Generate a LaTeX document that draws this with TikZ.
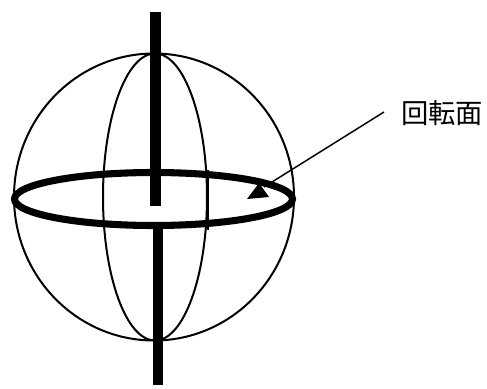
\documentclass[tikz,border=0pt]{standalone}
\usepackage{fontspec}
\newfontfamily\cjkfont{Noto Sans CJK JP}
\usetikzlibrary{positioning}
\tikzset{
  thinline/.style={line width=1.5pt,draw=black},
  axisline/.style={line width=8pt,draw=black},
  planeline/.style={line width=5.3pt,draw=black},
  leader/.style={line width=1.1pt,draw=black},
  labeltext/.style={font=\cjkfont\fontsize{20.5pt}{22pt}\selectfont,inner sep=0pt,anchor=west}
}
\begin{document}
\begin{tikzpicture}[x=0.75pt,y=-0.75pt]
\useasboundingbox (0,0) rectangle (487,389);
% Globe
\draw[thinline] (154,197) ellipse (140 and 143.5);
\draw[thinline] (155,197) ellipse (52 and 143.5);
% Axis
\draw[axisline] (155.5,12) -- (155.5,206);
\draw[axisline] (158,227) -- (158,385);
% Rotation plane
\draw[planeline] (153.5,199) ellipse (139 and 26.5);
\draw[thinline] (208,170) -- (208,230);
% Label and pointer
\node[labeltext] (lbl) at (401,113) {回転面};
\coordinate (lineend) at (384,112);
\coordinate (tip) at (264,187);
\draw[leader] (lineend) -- (tip);
\fill (247,199) -- (269,197) -- (259,183) -- cycle;
\end{tikzpicture}
\end{document}
